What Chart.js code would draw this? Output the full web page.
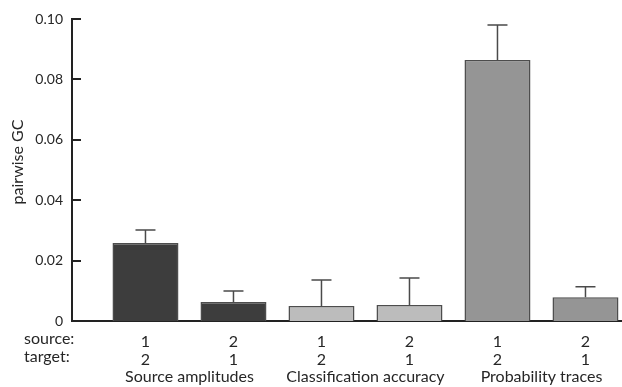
<!DOCTYPE html>
<html>
<head>
<meta charset="utf-8">
<script src="https://cdn.jsdelivr.net/npm/chart.js@4"></script>
<style>
  html, body { margin: 0; padding: 0; background: #fff; }
  #wrap { width: 622px; height: 387px; }
</style>
</head>
<body>
<div id="wrap"><canvas id="gc_chart"></canvas></div>
<script>
// valeurs
var groups = ['Source amplitudes', 'Classification accuracy', 'Probability traces'];
var sources = ['1', '2', '1', '2', '1', '2'];
var targets = ['2', '1', '2', '1', '2', '1'];
var gcMeans = [0.0258, 0.0063, 0.0050, 0.0053, 0.0864, 0.0079];
var gcErrors = [0.0043, 0.0036, 0.0086, 0.0089, 0.0116, 0.0034];
var yTicks = [0, 0.02, 0.04, 0.06, 0.08, 0.10];

var barColors = ['#3d3d3d', '#3d3d3d', '#bcbcbc', '#bcbcbc', '#959595', '#959595'];
var txt = '#262626';
var font = "'Lato', 'Open Sans', sans-serif";

var extras = {
    id: 'extras',
    afterDraw: function(chart) {
        var ctx = chart.ctx, x = chart.scales.x, y = chart.scales.y, area = chart.chartArea;
        ctx.save();
        // ticks vers l'intérieur
        ctx.strokeStyle = '#222';
        ctx.lineWidth = 2;
        yTicks.forEach(function(v) {
            var py = Math.round(y.getPixelForValue(v));
            ctx.beginPath();
            ctx.moveTo(area.left, py);
            ctx.lineTo(area.left + 9, py);
            ctx.stroke();
        });
        // barres d'erreur (haut seulement)
        ctx.strokeStyle = '#4a4a4a';
        ctx.lineWidth = 1.5;
        gcMeans.forEach(function(m, i) {
            var px = x.getPixelForValue(i + 1);
            var y0 = y.getPixelForValue(m);
            var y1 = y.getPixelForValue(m + gcErrors[i]);
            ctx.beginPath();
            ctx.moveTo(px, y0);
            ctx.lineTo(px, y1);
            ctx.moveTo(px - 10, y1);
            ctx.lineTo(px + 10, y1);
            ctx.stroke();
        });
        // libellés
        ctx.fillStyle = txt;
        ctx.font = '16px ' + font;
        ctx.textAlign = 'left';
        ctx.textBaseline = 'middle';
        ctx.fillText('source:', 24, 339);
        ctx.fillText('target:', 24, 357);
        ctx.textAlign = 'center';
        groups.forEach(function(g, k) {
            var cx = (x.getPixelForValue(2 * k + 1) + x.getPixelForValue(2 * k + 2)) / 2;
            ctx.fillText(g, cx, 377);
        });
        ctx.translate(18, 162);
        ctx.rotate(-Math.PI / 2);
        ctx.fillText('pairwise GC', 0, 0);
        ctx.restore();
    }
};

var getElemChart = document.getElementById('gc_chart').getContext('2d');
var gcChart = new Chart(getElemChart, {
    type: 'bar',
    data: {
        datasets: [{
            data: gcMeans.map(function(v, i) { return {x: i + 1, y: v}; }),
            backgroundColor: barColors,
            borderColor: '#4d4d4d',
            borderWidth: 1.5,
            barPercentage: 0.75,
            categoryPercentage: 1
        }]
    },
    options: {
        responsive: true,
        maintainAspectRatio: false,
        animation: false,
        layout: { padding: { top: 19, right: 0, left: 0, bottom: 0 } },
        plugins: { legend: { display: false }, tooltip: { enabled: false } },
        scales: {
            x: {
                type: 'linear',
                offset: false,
                min: 0.165,
                max: 6.415,
                afterBuildTicks: function(scale) {
                    scale.ticks = sources.map(function(s, i) { return {value: i + 1}; });
                },
                afterFit: function(scale) { scale.height = 66; },
                grid: { display: false },
                border: { display: true, color: '#222', width: 2 },
                ticks: {
                    autoSkip: false,
                    maxRotation: 0,
                    padding: 4,
                    color: txt,
                    font: { family: font, size: 16, lineHeight: 1.13 },
                    callback: function(v) {
                        var i = Math.round(v) - 1;
                        return [sources[i], targets[i]];
                    }
                }
            },
            y: {
                min: 0,
                max: 0.1,
                afterBuildTicks: function(scale) {
                    scale.ticks = yTicks.map(function(v) { return {value: v}; });
                },
                afterFit: function(scale) { scale.width = 72; },
                grid: { display: false },
                border: { display: true, color: '#222', width: 2 },
                ticks: {
                    padding: 1,
                    color: txt,
                    font: { family: font, size: 14 },
                    callback: function(v) { return v === 0 ? '0' : v.toFixed(2); }
                }
            }
        }
    },
    plugins: [extras]
});
</script>
</body>
</html>
